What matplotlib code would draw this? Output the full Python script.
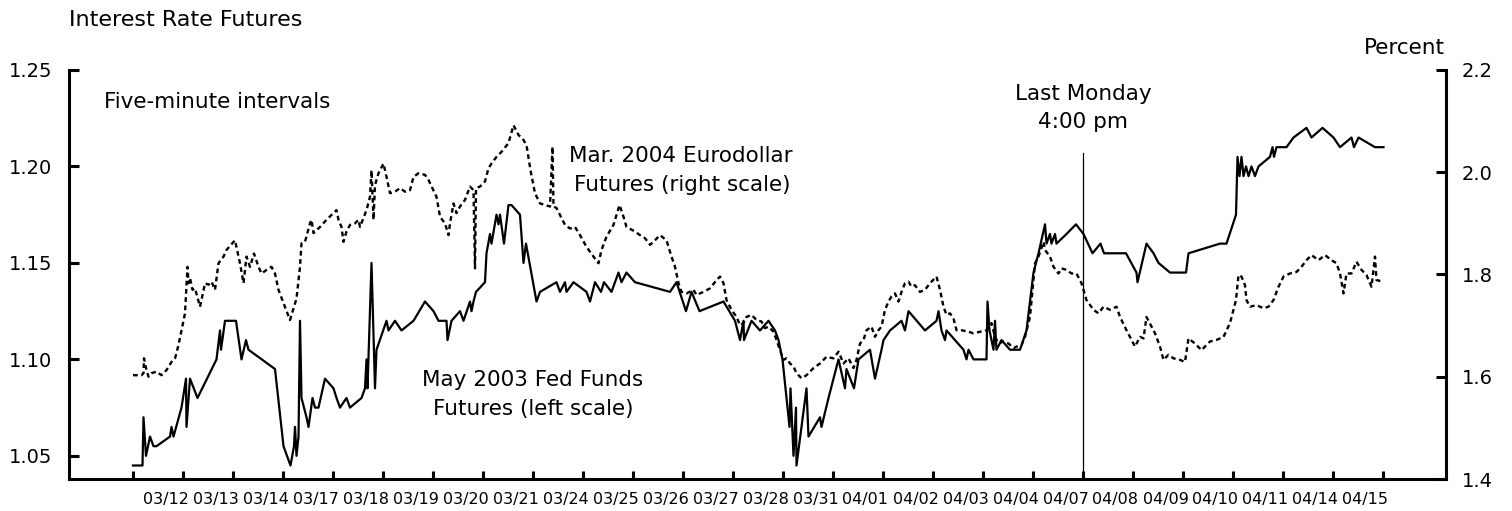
import matplotlib
matplotlib.use("Agg")
import matplotlib.pyplot as plt
from matplotlib.ticker import FixedLocator, NullFormatter, FixedFormatter

plt.rcParams['font.family'] = ['DejaVu Sans']

# ---------------- data ----------------
days = ["03/12", "03/13", "03/14", "03/17", "03/18", "03/19", "03/20", "03/21",
        "03/24", "03/25", "03/26", "03/27", "03/28", "03/31", "04/01", "04/02",
        "04/03", "04/04", "04/07", "04/08", "04/09", "04/10", "04/11", "04/14", "04/15"]

# May 2003 Fed Funds futures (left scale); time in trading days since 03/12 open
fed_t = [0.00, 0.19, 0.21, 0.26, 0.34, 0.41, 0.47, 0.74, 0.77, 0.81, 0.97, 1.06, 1.07, 1.14, 1.29,
         1.67, 1.74, 1.76, 1.84, 2.06, 2.17, 2.26, 2.31, 2.84, 3.01, 3.15, 3.22, 3.24, 3.27, 3.31,
         3.34, 3.37, 3.47, 3.51, 3.59, 3.64, 3.71, 3.84, 4.01, 4.07, 4.14, 4.27, 4.34, 4.57, 4.64,
         4.67, 4.69, 4.77, 4.84, 4.87, 5.07, 5.11, 5.24, 5.37, 5.61, 5.84, 6.01, 6.11, 6.27, 6.29,
         6.37, 6.54, 6.61, 6.74, 6.77, 6.81, 6.86, 7.04, 7.07, 7.14, 7.17, 7.27, 7.31, 7.34, 7.42,
         7.51, 7.57, 7.74, 7.81, 7.86, 8.07, 8.14, 8.47, 8.54, 8.64, 8.67, 8.81, 9.07, 9.14, 9.24,
         9.36, 9.42, 9.57, 9.71, 9.77, 9.87, 10.04, 10.74, 10.87, 11.06, 11.17, 11.33, 11.81, 12.04,
         12.14, 12.21, 12.22, 12.37, 12.54, 12.71, 12.84, 12.91, 12.99, 13.07, 13.13, 13.15, 13.21,
         13.26, 13.27, 13.32, 13.47, 13.51, 13.74, 13.77, 13.91, 14.11, 14.24, 14.27, 14.42, 14.51,
         14.74, 14.84, 14.97, 15.01, 15.14, 15.37, 15.44, 15.51, 15.84, 16.07, 16.11, 16.17, 16.24,
         16.27, 16.61, 16.67, 16.71, 16.81, 17.07, 17.09, 17.13, 17.21, 17.24, 17.27, 17.37, 17.54,
         17.74, 17.87, 18.01, 18.11, 18.24, 18.27, 18.34, 18.37, 18.44, 18.47, 18.67, 18.86, 19.01,
         19.19, 19.35, 19.42, 19.86, 20.07, 20.09, 20.27, 20.41, 20.51, 20.74, 21.06, 21.11, 21.74,
         21.87, 22.06, 22.09, 22.13, 22.17, 22.21, 22.26, 22.31, 22.37, 22.44, 22.51, 22.74, 22.79,
         22.82, 22.87, 23.07, 23.21, 23.47, 23.57, 23.79, 24.01, 24.14, 24.37, 24.42, 24.51, 24.84,
         25.01]
fed_v = [1.045, 1.045, 1.070, 1.050, 1.060, 1.055, 1.055, 1.060, 1.065, 1.060, 1.075, 1.090, 1.065, 1.090, 1.080,
         1.100, 1.115, 1.105, 1.120, 1.120, 1.100, 1.110, 1.105, 1.095, 1.055, 1.045, 1.055, 1.065, 1.050, 1.060,
         1.120, 1.080, 1.070, 1.065, 1.080, 1.075, 1.075, 1.090, 1.085, 1.080, 1.075, 1.080, 1.075, 1.080, 1.085,
         1.100, 1.085, 1.150, 1.085, 1.105, 1.120, 1.115, 1.120, 1.115, 1.120, 1.130, 1.125, 1.120, 1.120, 1.110,
         1.120, 1.125, 1.120, 1.130, 1.125, 1.130, 1.135, 1.140, 1.155, 1.165, 1.160, 1.175, 1.170, 1.175, 1.160,
         1.180, 1.180, 1.175, 1.150, 1.160, 1.130, 1.135, 1.140, 1.135, 1.140, 1.135, 1.140, 1.135, 1.130, 1.140,
         1.135, 1.140, 1.135, 1.145, 1.140, 1.145, 1.140, 1.135, 1.140, 1.125, 1.135, 1.125, 1.130, 1.120,
         1.110, 1.120, 1.110, 1.120, 1.115, 1.120, 1.115, 1.110, 1.100, 1.080, 1.065, 1.085, 1.050,
         1.075, 1.045, 1.055, 1.085, 1.060, 1.070, 1.065, 1.080, 1.100, 1.085, 1.095, 1.085, 1.100,
         1.105, 1.090, 1.105, 1.110, 1.115, 1.120, 1.115, 1.125, 1.115, 1.120, 1.125, 1.115, 1.110,
         1.115, 1.105, 1.100, 1.105, 1.100, 1.100, 1.130, 1.115, 1.105, 1.120, 1.105, 1.110, 1.105,
         1.105, 1.115, 1.145, 1.155, 1.170, 1.160, 1.165, 1.160, 1.165, 1.160, 1.165, 1.170, 1.165,
         1.155, 1.160, 1.155, 1.155, 1.145, 1.140, 1.160, 1.155, 1.150, 1.145, 1.145, 1.155, 1.160,
         1.160, 1.175, 1.205, 1.195, 1.205, 1.195, 1.200, 1.195, 1.200, 1.195, 1.200, 1.205, 1.210,
         1.205, 1.210, 1.210, 1.215, 1.220, 1.215, 1.220, 1.215, 1.210, 1.215, 1.210, 1.215, 1.210,
         1.210]

# Mar. 2004 Eurodollar futures (right scale)
ed_t = [0.00, 0.17, 0.21, 0.22, 0.26, 0.31, 0.37, 0.47, 0.57, 0.67, 0.77, 0.84, 0.91, 1.04, 1.09, 1.11,
        1.14, 1.19, 1.24, 1.34, 1.37, 1.44, 1.51, 1.57, 1.64, 1.71, 1.81, 1.87, 2.04, 2.14, 2.21, 2.27,
        2.34, 2.42, 2.51, 2.57, 2.67, 2.77, 2.84, 2.91, 3.01, 3.14, 3.21, 3.27, 3.34, 3.37, 3.44, 3.54,
        3.57, 3.61, 3.74, 3.87, 4.07, 4.11, 4.17, 4.21, 4.27, 4.34, 4.44, 4.51, 4.54, 4.67, 4.74, 4.77,
        4.81, 4.84, 4.91, 5.01, 5.07, 5.14, 5.24, 5.34, 5.44, 5.54, 5.61, 5.71, 5.84, 5.91, 6.07, 6.14,
        6.24, 6.31, 6.34, 6.41, 6.47, 6.54, 6.64, 6.74, 6.81, 6.84, 6.86, 6.94, 7.04, 7.11, 7.17, 7.27,
        7.37, 7.51, 7.61, 7.71, 7.81, 7.87, 7.95, 8.04, 8.14, 8.24, 8.34, 8.39, 8.41, 8.47, 8.64, 8.74,
        8.84, 8.94, 9.07, 9.21, 9.31, 9.37, 9.47, 9.61, 9.73, 9.81, 9.87, 10.04, 10.14, 10.24, 10.34,
        10.41, 10.54, 10.67, 10.77, 10.84, 10.91, 10.97, 11.07, 11.21, 11.27, 11.41, 11.54, 11.67,
        11.74, 11.81, 11.87, 11.97, 12.07, 12.14, 12.21, 12.27, 12.37, 12.47, 12.57, 12.64, 12.71,
        12.81, 12.87, 12.94, 13.01, 13.07, 13.14, 13.21, 13.27, 13.37, 13.47, 13.61, 13.74, 13.87,
        14.01, 14.11, 14.21, 14.31, 14.41, 14.47, 14.54, 14.61, 14.67, 14.77, 14.84, 14.91, 14.97,
        15.04, 15.11, 15.17, 15.24, 15.31, 15.37, 15.44, 15.51, 15.57, 15.64, 15.74, 15.84, 15.94,
        16.07, 16.14, 16.21, 16.27, 16.34, 16.41, 16.47, 16.57, 16.71, 16.81, 16.94, 17.07, 17.17,
        17.24, 17.31, 17.41, 17.51, 17.61, 17.67, 17.77, 17.84, 17.94, 18.04, 18.11, 18.21, 18.24,
        18.34, 18.41, 18.51, 18.57, 18.67, 18.77, 18.87, 18.97, 19.07, 19.21, 19.31, 19.41, 19.54,
        19.67, 19.74, 19.87, 20.04, 20.14, 20.21, 20.27, 20.37, 20.44, 20.54, 20.61, 20.71, 20.81,
        20.94, 21.04, 21.11, 21.24, 21.37, 21.54, 21.67, 21.81, 21.94, 22.06, 22.11, 22.17, 22.24,
        22.27, 22.34, 22.47, 22.61, 22.71, 22.81, 22.91, 23.01, 23.14, 23.27, 23.37, 23.47, 23.57,
        23.71, 23.84, 23.97, 24.07, 24.14, 24.21, 24.27, 24.37, 24.47, 24.57, 24.67, 24.77, 24.84,
        24.87, 25.01]
ed_v = [1.603, 1.603, 1.607, 1.636, 1.617, 1.600, 1.607, 1.610, 1.603, 1.613, 1.629, 1.636, 1.662, 1.724, 1.815, 1.783,
        1.793, 1.770, 1.773, 1.737, 1.750, 1.783, 1.780, 1.786, 1.770, 1.822, 1.835, 1.848, 1.867, 1.822, 1.783, 1.835,
        1.815, 1.841, 1.815, 1.802, 1.809, 1.815, 1.802, 1.770, 1.744, 1.711, 1.734, 1.753, 1.815, 1.861, 1.864, 1.900,
        1.907, 1.881, 1.893, 1.907, 1.926, 1.907, 1.893, 1.864, 1.884, 1.897, 1.900, 1.907, 1.893, 1.926, 1.952, 2.004,
        1.907, 1.975, 1.998, 2.017, 1.991, 1.959, 1.962, 1.969, 1.962, 1.965, 1.991, 1.998, 1.995, 1.985, 1.952, 1.913,
        1.900, 1.877, 1.900, 1.939, 1.920, 1.933, 1.946, 1.972, 1.965, 1.812, 1.969, 1.972, 1.982, 2.008, 2.017, 2.030,
        2.040, 2.057, 2.092, 2.073, 2.063, 2.053, 2.004, 1.959, 1.939, 1.936, 1.933, 2.050, 1.933, 1.930, 1.897, 1.890,
        1.893, 1.877, 1.854, 1.835, 1.822, 1.848, 1.874, 1.897, 1.936, 1.913, 1.893, 1.884, 1.877, 1.871, 1.858,
        1.864, 1.877, 1.867, 1.835, 1.815, 1.783, 1.766, 1.763, 1.770, 1.760, 1.766, 1.773, 1.789,
        1.796, 1.783, 1.750, 1.731, 1.717, 1.701, 1.705, 1.717, 1.721, 1.711, 1.708, 1.695, 1.698,
        1.688, 1.672, 1.652, 1.633, 1.636, 1.626, 1.620, 1.607, 1.597, 1.603, 1.617, 1.626, 1.639,
        1.636, 1.649, 1.626, 1.636, 1.617, 1.633, 1.665, 1.672, 1.691, 1.698, 1.678, 1.691, 1.698,
        1.731, 1.747, 1.757, 1.763, 1.747, 1.766, 1.783, 1.786, 1.776, 1.779, 1.766, 1.770, 1.783,
        1.796, 1.770, 1.737, 1.721, 1.724, 1.714, 1.691, 1.691, 1.688, 1.685, 1.688, 1.691, 1.705,
        1.678, 1.665, 1.669, 1.665, 1.656, 1.659, 1.662, 1.678, 1.717, 1.822, 1.835, 1.864, 1.848,
        1.835, 1.815, 1.802, 1.812, 1.809, 1.802, 1.802, 1.783, 1.750, 1.731, 1.724, 1.737, 1.731,
        1.737, 1.717, 1.691, 1.659, 1.678, 1.675, 1.717, 1.698, 1.685, 1.659, 1.633, 1.643, 1.636,
        1.633, 1.629, 1.675, 1.665, 1.652, 1.669, 1.672, 1.678, 1.705, 1.750, 1.799, 1.796, 1.779,
        1.750, 1.737, 1.740, 1.734, 1.737, 1.750, 1.776, 1.796, 1.802, 1.805, 1.815, 1.828, 1.838,
        1.828, 1.838, 1.828, 1.822, 1.802, 1.763, 1.802, 1.802, 1.825, 1.809, 1.799, 1.776, 1.835,
        1.789, 1.786]

left_ticks = [1.05, 1.10, 1.15, 1.20, 1.25]
left_labels = ["1.05", "1.10", "1.15", "1.20", "1.25"]
right_ticks = [1.4, 1.6, 1.8, 2.0, 2.2]
right_labels = ["1.4", "1.6", "1.8", "2.0", "2.2"]
marker_day = 19  # "Last Monday 4:00 pm"

# ---------------- figure ----------------
W, H = 1512, 511
fig = plt.figure(figsize=(W / 100, H / 100), dpi=100)

def fx(x):
    return x / W

def fy(y):
    return 1 - y / H

ax = fig.add_axes([fx(69), fy(479), (1446 - 69) / W, (479 - 70) / H])
ax2 = ax.twinx()

ax.plot(fed_t, fed_v, color='black', lw=1.6, zorder=3)
ax2.plot(ed_t, ed_v, color='black', lw=1.7, linestyle=(0, (2.0, 1.5)), zorder=3)

ax.set_xlim(-1.28, 26.26)
ax.set_ylim(1.038, 1.25)
ax2.set_ylim(1.4, 2.2)

spw = 2.2
for s in ['top', 'right']:
    ax.spines[s].set_visible(False)
for s in ['top', 'left', 'bottom']:
    ax2.spines[s].set_visible(False)
ax.spines['left'].set_linewidth(spw)
ax.spines['bottom'].set_linewidth(spw)
ax2.spines['right'].set_linewidth(spw)

# x ticks: boundaries (major) and day labels (minor)
ax.xaxis.set_major_locator(FixedLocator(list(range(len(days) + 1))))
ax.xaxis.set_major_formatter(NullFormatter())
ax.xaxis.set_minor_locator(FixedLocator([i + 0.65 for i in range(len(days))]))
ax.xaxis.set_minor_formatter(FixedFormatter(days))
ax.tick_params(axis='x', which='major', direction='in', length=6, width=spw)
ax.tick_params(axis='x', which='minor', length=0, labelsize=11.5, pad=9)

# left y
ax.yaxis.set_major_locator(FixedLocator(left_ticks))
ax.yaxis.set_major_formatter(FixedFormatter(left_labels))
ax.yaxis.set_minor_locator(FixedLocator([left_ticks[-1]]))
ax.yaxis.set_minor_formatter(NullFormatter())
ax.tick_params(axis='y', which='major', direction='in', length=7.5, width=spw,
               labelsize=14, pad=12)
ax.tick_params(axis='y', which='minor', direction='in', length=13, width=spw)

# right y
ax2.yaxis.set_major_locator(FixedLocator(right_ticks))
ax2.yaxis.set_major_formatter(FixedFormatter(right_labels))
ax2.yaxis.set_minor_locator(FixedLocator([right_ticks[-1]]))
ax2.yaxis.set_minor_formatter(NullFormatter())
ax2.tick_params(axis='y', which='major', direction='in', length=7.5, width=spw,
                labelsize=14, pad=11.5)
ax2.tick_params(axis='y', which='minor', direction='in', length=13, width=spw)

# marker line
ax.axvline(marker_day, ymin=0, ymax=(479 - 152.7) / 409, color='black', lw=0.9)

# texts
fs = 15.5
fig.text(fx(69), fy(26), "Interest Rate Futures", fontsize=16, va='baseline', ha='left')
fig.text(fx(1445), fy(54), "Percent", fontsize=fs, va='baseline', ha='right')
fig.text(fx(104), fy(108), "Five-minute intervals", fontsize=fs, va='baseline', ha='left')
fig.text(fx(681), fy(162), "Mar. 2004 Eurodollar", fontsize=fs, va='baseline', ha='center')
fig.text(fx(682), fy(191), "Futures (right scale)", fontsize=fs, va='baseline', ha='center')
fig.text(fx(533), fy(386), "May 2003 Fed Funds", fontsize=fs, va='baseline', ha='center')
fig.text(fx(533), fy(415), "Futures (left scale)", fontsize=fs, va='baseline', ha='center')
fig.text(fx(1083), fy(100), "Last Monday", fontsize=fs, va='baseline', ha='center')
fig.text(fx(1083), fy(128), "4:00 pm", fontsize=fs, va='baseline', ha='center')

fig.savefig("out.png", dpi=100)
